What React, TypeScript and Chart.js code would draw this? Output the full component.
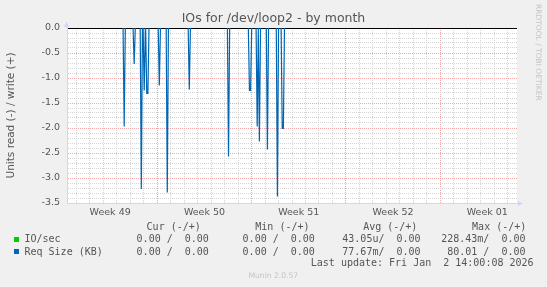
import React, { useEffect, useRef } from "react";
import { Chart, registerables } from "chart.js";

Chart.register(...registerables);

// ---- data (x in hours relative to Mon 8 Dec 00:00, the start of Week 50) ----
const chartTitle = "IOs for /dev/loop2 - by month";
const yAxisTitle = "Units read (-) / write (+)";
const weekLabels = ["Week 49", "Week 50", "Week 51", "Week 52", "Week 01"];
const xRangeHours = [-160.9, 640.9];
const yRange = [-3.5, 0];

// non-zero 2h samples of "Req Size (KB)" read side (everything else is 0)
const sampleHours = [
  -59, -41.2, -28.5, -23.3, -18.8, -16.8, 3.6, 17.8, 57, 126.9,
  164.2, 166.2, 178, 181.9, 196.2, 214, 222.6, 224.6,
];
const reqSizeRead = [
  -1.97, -0.72, -3.22, -1.25, -1.31, -1.31, -1.15, -3.29, -1.23, -2.57,
  -1.25, -1.25, -1.97, -2.27, -2.43, -3.37, -2.01, -2.01,
];

const legendNames = ["IO/sec", "Req Size (KB)"];
const legendHeaders = ["Cur (-/+)", "Min (-/+)", "Avg (-/+)", "Max (-/+)"];
const curValues = ["0.00 /  0.00", "0.00 /  0.00"];
const minValues = ["0.00 /  0.00", "0.00 /  0.00"];
const avgValues = ["43.05u/  0.00", "77.67m/  0.00"];
const maxValues = ["228.43m/  0.00", " 80.01 /  0.00"];
const lastUpdate = "Last update: Fri Jan  2 14:00:08 2026";
const versionText = "Munin 2.0.57";
const watermark = "RRDTOOL / TOBI OETIKER";

// ---- styles ----
const W = 547;
const H = 287;
const SERIES_COLORS = ["#00cc00", "#0066b3"];
const AXIS = "#cfd6f8";
const GRID = "#d4d4d4";
const MGRID = "#f0a8a8";
const TEXT = "#555555";
const SANS = '"DejaVu Sans", sans-serif';
const MONO = '"DejaVu Sans Mono", monospace';
const STEP = 2; // hours per sample

function buildSeries() {
  const pts: { x: number; y: number | null }[] = [];
  for (let i = 0; i < sampleHours.length; i++) {
    const h = sampleHours[i];
    const prev = i > 0 ? sampleHours[i - 1] : -Infinity;
    if (h - prev > STEP * 1.25) {
      if (i > 0) {
        pts.push({ x: prev + STEP, y: 0 });
        pts.push({ x: prev + STEP, y: null });
      }
      pts.push({ x: h - STEP, y: 0 });
    }
    pts.push({ x: h, y: reqSizeRead[i] });
  }
  pts.push({ x: sampleHours[sampleHours.length - 1] + STEP, y: 0 });
  return pts;
}

const xTickValues: number[] = [];
for (let v = -156; v <= 636; v += 12) xTickValues.push(v);
const yTickValues: number[] = [];
for (let k = 35; k >= 0; k--) yTickValues.push(Number((-k / 10).toFixed(1)));

const mod = (a: number, b: number) => ((a % b) + b) % b;

const framePlugin = {
  id: "frame",
  beforeDraw(chart: any) {
    const { ctx, chartArea: a } = chart;
    ctx.save();
    ctx.fillStyle = "#f0f0f0";
    ctx.fillRect(0, 0, chart.width, chart.height);
    ctx.fillStyle = "#ffffff";
    ctx.fillRect(a.left, a.top, a.right - a.left, a.bottom - a.top);
    ctx.restore();
  },
  afterDraw(chart: any) {
    const { ctx, chartArea: a } = chart;
    ctx.save();
    ctx.strokeStyle = AXIS;
    ctx.fillStyle = AXIS;
    ctx.lineWidth = 1;
    ctx.beginPath();
    ctx.moveTo(a.left - 0.5, a.top);
    ctx.lineTo(a.left - 0.5, a.top - 2);
    ctx.moveTo(a.right, a.bottom + 0.5);
    ctx.lineTo(a.right + 1, a.bottom + 0.5);
    ctx.stroke();
    ctx.beginPath();
    ctx.moveTo(a.left - 0.5, a.top - 6.5);
    ctx.lineTo(a.left - 3, a.top - 1);
    ctx.lineTo(a.left + 2, a.top - 1);
    ctx.closePath();
    ctx.fill();
    ctx.beginPath();
    ctx.moveTo(a.right + 6, a.bottom + 0.5);
    ctx.lineTo(a.right + 1, a.bottom - 2);
    ctx.lineTo(a.right + 1, a.bottom + 3);
    ctx.closePath();
    ctx.fill();
    ctx.restore();
  },
};

export default function App() {
  const ref = useRef<HTMLCanvasElement>(null);
  useEffect(() => {
    const canvas = ref.current;
    if (!canvas) return;
    const chart = new Chart(canvas, {
      type: "line",
      data: {
        datasets: [
          {
            label: legendNames[1],
            data: buildSeries() as any,
            borderColor: SERIES_COLORS[1],
            backgroundColor: SERIES_COLORS[1],
            borderWidth: 1.2,
            pointRadius: 0,
            tension: 0,
            fill: false,
            spanGaps: false,
          },
        ],
      },
      options: {
        animation: false,
        responsive: false,
        events: [],
        layout: { padding: { top: 28, right: 30, left: 0, bottom: 0 } },
        plugins: {
          legend: { display: false },
          title: { display: false },
          tooltip: { enabled: false },
        },
        scales: {
          x: {
            type: "linear",
            min: xRangeHours[0],
            max: xRangeHours[1],
            afterBuildTicks: (s: any) => {
              s.ticks = xTickValues.map((v) => ({ value: v }));
            },
            afterFit: (s: any) => {
              s.height = H - 203;
            },
            grid: {
              drawTicks: false,
              lineWidth: 1,
              color: (c: any) => {
                const v = c.tick ? c.tick.value : 0;
                if (mod(v, 24) !== 0) return "rgba(0,0,0,0)";
                if (mod(v, 168) === 0) return MGRID;
                return GRID;
              },
            },
            border: { display: true, color: AXIS, width: 1, dash: [1, 1] },
            ticks: {
              autoSkip: false,
              maxRotation: 0,
              minRotation: 0,
              padding: 4,
              color: TEXT,
              font: { family: SANS, size: 9.5 },
              callback: (value: any) => {
                const v = Number(value);
                if (mod(v - 84, 168) !== 0) return "";
                const idx = Math.round((v + 84) / 168);
                return weekLabels[idx] ?? "";
              },
            },
          },
          y: {
            type: "linear",
            min: yRange[0],
            max: yRange[1],
            afterBuildTicks: (s: any) => {
              s.ticks = yTickValues.map((v) => ({ value: v }));
            },
            afterFit: (s: any) => {
              s.width = 67;
            },
            grid: {
              drawTicks: false,
              lineWidth: 1,
              color: (c: any) => {
                if (!c.tick) return GRID;
                const k = Math.round(-c.tick.value * 10);
                if (k === 0) return "#000000";
                if (k === 35) return "rgba(0,0,0,0)";
                if (k % 5 === 0) return MGRID;
                return GRID;
              },
            },
            border: {
              display: true,
              color: AXIS,
              width: 1,
              dash: (c: any) => {
                if (!c.tick) return [];
                const k = Math.round(-c.tick.value * 10);
                return k === 0 ? [] : [1, 1];
              },
            } as any,
            title: {
              display: true,
              text: yAxisTitle,
              color: TEXT,
              font: { family: SANS, size: 10.5 },
              padding: { top: 5, bottom: 0 },
            },
            ticks: {
              autoSkip: false,
              padding: 7,
              color: TEXT,
              font: { family: SANS, size: 9.5 },
              callback: (value: any) => {
                const v = Number(value);
                const k = Math.round(-v * 10);
                if (k % 5 !== 0) return "";
                return (Math.abs(v) < 1e-9 ? 0 : v).toFixed(1);
              },
            },
          },
        },
      } as any,
      plugins: [framePlugin],
    });
    return () => chart.destroy();
  }, []);

  const txt = (
    left: number,
    top: number,
    content: string,
    size: number,
    family: string,
    color: string,
    key: string
  ) => (
    <div
      key={key}
      style={{
        position: "absolute",
        left,
        top,
        whiteSpace: "pre",
        fontFamily: family,
        fontSize: size,
        lineHeight: `${size}px`,
        color,
      }}
    >
      {content}
    </div>
  );

  const headerX = [146.6, 255.3, 363.2, 472.1];
  const valueX = [136.6, 242.6, 342.3, 441.2];
  const rowTop = [234.3, 246.8];
  const squareTop = [237, 249];
  const columns = [curValues, minValues, avgValues, maxValues];

  return (
    <div
      style={{
        position: "absolute",
        left: 0,
        top: 0,
        width: W,
        height: H,
        background: "#f0f0f0",
        overflow: "hidden",
      }}
    >
      <canvas
        ref={ref}
        width={W}
        height={H}
        style={{ position: "absolute", left: 0, top: 0, width: W, height: H }}
      />
      <div
        style={{
          position: "absolute",
          left: 0,
          top: 12.4,
          width: W,
          textAlign: "center",
          fontFamily: SANS,
          fontSize: 12.5,
          lineHeight: "12.5px",
          color: TEXT,
          whiteSpace: "pre",
        }}
      >
        {chartTitle}
      </div>
      <div
        style={{
          position: "absolute",
          left: 542,
          top: 4.4,
          transformOrigin: "0 0",
          transform: "rotate(90deg)",
          fontFamily: SANS,
          fontSize: 7.5,
          lineHeight: "7.5px",
          color: "#c4c4c4",
          whiteSpace: "pre",
        }}
      >
        {watermark}
      </div>
      {legendHeaders.map((h, i) => txt(headerX[i], 222, h, 10, MONO, TEXT, "h" + i))}
      {legendNames.map((name, r) => (
        <React.Fragment key={"r" + r}>
          <div
            style={{
              position: "absolute",
              left: 14,
              top: squareTop[r],
              width: 5,
              height: 5,
              background: SERIES_COLORS[r],
            }}
          />
          {txt(24.5, rowTop[r], name, 10, MONO, TEXT, "n" + r)}
          {columns.map((col, c) => txt(valueX[c], rowTop[r], col[r], 10, MONO, TEXT, "v" + r + c))}
        </React.Fragment>
      ))}
      {txt(310.8, 258.3, lastUpdate, 10, MONO, TEXT, "lu")}
      <div
        style={{
          position: "absolute",
          left: 0,
          top: 272.4,
          width: W - 0.4,
          textAlign: "center",
          fontFamily: SANS,
          fontSize: 7.6,
          lineHeight: "7.6px",
          color: "#c4c4c4",
          whiteSpace: "pre",
        }}
      >
        {versionText}
      </div>
    </div>
  );
}
